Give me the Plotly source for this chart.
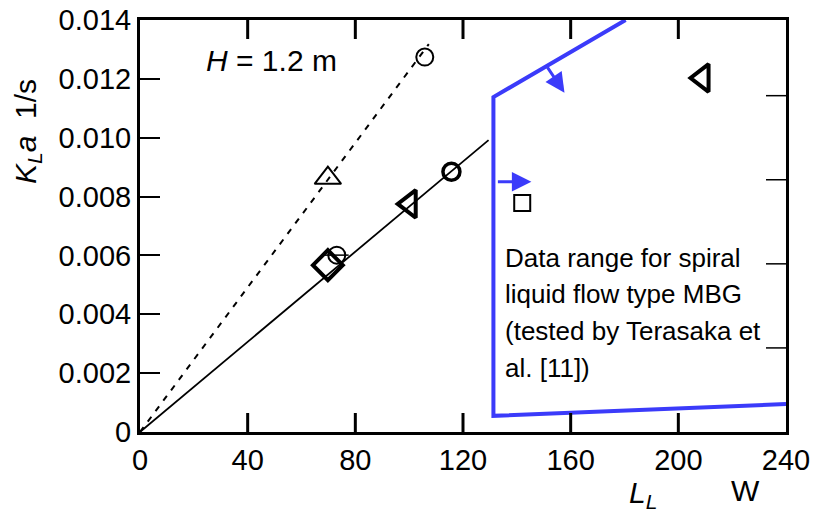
import plotly.graph_objects as go

FONT = "Liberation Sans, Arial, sans-serif"

# Fitted correlation lines (power L_L in W vs. KLa in 1/s)
dash_x = [0, 107.3]
dash_y = [0, 0.01318]
solid_x = [0, 129.5]
solid_y = [0, 0.00992]

# Measured points
open_circle_x = [105.8, 73.1]
open_circle_y = [0.01274, 0.00601]
open_triangle_x = [69.8]
open_triangle_y = [0.00863]
bold_circle_x = [115.7]
bold_circle_y = [0.00884]
bold_left_tri_x = [100.2, 209.0]
bold_left_tri_y = [0.00775, 0.01203]
bold_diamond_x = [69.8]
bold_diamond_y = [0.00567]
open_square_x = [142.0]
open_square_y = [0.00778]

# Boundary of the spiral liquid flow type MBG data range
range_x = [180.4, 131.3, 131.3, 240.0]
range_y = [0.014, 0.01138, 0.00055, 0.00095]

x_ticks = [0, 40, 80, 120, 160, 200, 240]
y_ticks = [0, 0.002, 0.004, 0.006, 0.008, 0.010, 0.012, 0.014]
y_tick_text = ["0", "0.002", "0.004", "0.006", "0.008", "0.010", "0.012", "0.014"]
# Right-hand frame ticks (unlabelled secondary scale, 0 to 4.9)
right_ticks = [1, 2, 3, 4]
right_range = 4.9

range_note = ["Data range for spiral", "liquid flow type MBG",
              "(tested by Terasaka et", "al. [11])"]

BLUE = "#3b3bfa"
W, H = 814, 519
ML, MR, MT, MB = 140, 28, 20, 87
PW, PH = W - ML - MR, H - MT - MB


def paper(px, py):
    return (px - ML) / PW, (H - MB - py) / PH


fig = go.Figure()

fig.add_trace(go.Scatter(x=dash_x, y=dash_y, mode="lines",
                         line=dict(color="black", width=2, dash="6px,7px")))
fig.add_trace(go.Scatter(x=solid_x, y=solid_y, mode="lines",
                         line=dict(color="black", width=1.8)))
fig.add_trace(go.Scatter(x=range_x, y=range_y, mode="lines",
                         line=dict(color=BLUE, width=4)))


def pts(x, y, symbol, size, lw):
    fig.add_trace(go.Scatter(x=x, y=y, mode="markers",
                             marker=dict(symbol=symbol, size=size, color="black",
                                         line=dict(color="black", width=lw))))


pts(open_circle_x, open_circle_y, "circle-open", 17, 2)
pts(open_circle_x[1:], open_circle_y[1:], "line-ew-open", 17, 1.5)
pts(open_triangle_x, open_triangle_y, "triangle-up-open", 23, 2)
pts(bold_circle_x, bold_circle_y, "circle-open", 17, 3.5)
pts(bold_left_tri_x, bold_left_tri_y, "triangle-left-open", 24, 4)
pts(bold_diamond_x, bold_diamond_y, "diamond-open", 23, 4)
pts(open_square_x, open_square_y, "square-open", 16, 2)

# Direction arrows pointing into the data range
arrows = [((132.4, 0.0085), (145.4, 0.0085)),
          ((151.0, 0.01244), (157.7, 0.01153))]
for (tx, ty), (hx, hy) in arrows:
    fig.add_annotation(x=hx, y=hy, ax=tx, ay=ty, xref="x", yref="y", axref="x", ayref="y",
                       text="", showarrow=True, arrowhead=2, arrowsize=1.3,
                       arrowwidth=3, arrowcolor=BLUE)

fig.add_annotation(x=49, y=0.01264, xref="x", yref="y", showarrow=False,
                   xanchor="center", yanchor="middle",
                   text="<i>H</i> = 1.2 m", font=dict(size=30, color="black", family=FONT))

for line, py in zip(range_note, [258, 294, 331, 368]):
    px_, py_ = paper(503, py)
    fig.add_annotation(x=px_, y=py_, xref="paper", yref="paper", showarrow=False,
                       xanchor="left", yanchor="middle", align="left", text=line,
                       font=dict(size=26, color="black", family=FONT))

# Axis titles
tx, ty = paper(27, 132)
fig.add_annotation(x=tx, y=ty, xref="paper", yref="paper", showarrow=False,
                   xanchor="center", yanchor="middle",
                   text="<i>K</i><sub><i>L</i></sub><i>a</i>  1/s", textangle=-90,
                   font=dict(size=30, color="black", family=FONT))
tx, ty = paper(643, 494)
fig.add_annotation(x=tx, y=ty, xref="paper", yref="paper", showarrow=False,
                   xanchor="center", yanchor="middle",
                   text="<i>L</i><sub><i>L</i></sub>",
                   font=dict(size=30, color="black", family=FONT))
tx, ty = paper(745, 490)
fig.add_annotation(x=tx, y=ty, xref="paper", yref="paper", showarrow=False,
                   xanchor="center", yanchor="middle", text="W",
                   font=dict(size=30, color="black", family=FONT))

# Inward ticks on the right-hand frame
for t in right_ticks:
    f = t / right_range
    fig.add_shape(type="line", xref="paper", yref="paper", x0=1, x1=1 - 20 / PW,
                  y0=f, y1=f, line=dict(color="black", width=1.5))

# Inward ticks on the bottom and top frame
for t in x_ticks[1:-1]:
    for y0, y1 in ((0, 19 / PH), (1, 1 - 19 / PH)):
        fig.add_shape(type="line", xref="x", yref="paper", x0=t, x1=t, y0=y0, y1=y1,
                      layer="above", line=dict(color="black", width=3))

fig.update_layout(
    width=W, height=H,
    margin=dict(l=ML, r=MR, t=MT, b=MB),
    paper_bgcolor="white", plot_bgcolor="white",
    showlegend=False,
    font=dict(family=FONT, size=29, color="black"),
    xaxis=dict(range=[0, 240], tickvals=x_ticks, ticks="", showline=True, linewidth=3,
               linecolor="black", mirror=True, tickfont=dict(size=29, family=FONT),
               showgrid=False, zeroline=False, automargin=False),
    yaxis=dict(range=[0, 0.014], tickvals=y_ticks, ticktext=y_tick_text, ticks="inside",
               ticklen=20, tickwidth=1.5, tickcolor="black",
               showline=True, linewidth=3, linecolor="black", mirror=True,
               tickfont=dict(size=29, family=FONT), showgrid=False, zeroline=False,
               automargin=False),
)

fig.write_html("out.html")
